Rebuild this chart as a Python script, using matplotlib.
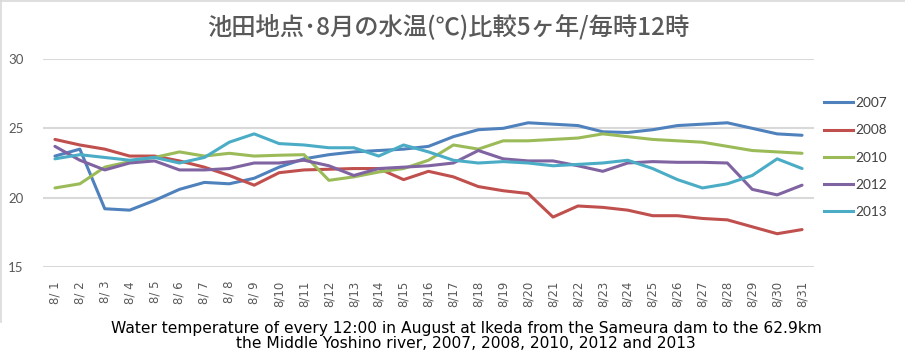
import matplotlib
matplotlib.use("Agg")
import matplotlib.pyplot as plt
from matplotlib.lines import Line2D

# August, every 12:00, water temperature at Ikeda
days = [f"8/{d:2d}" for d in range(1, 32)]
t2007 = [23.0, 23.5, 19.2, 19.1, 19.8, 20.6, 21.1, 21.0, 21.4, 22.2, 22.8,
         23.1, 23.3, 23.4, 23.5, 23.7, 24.4, 24.9, 25.0, 25.4, 25.3, 25.2,
         24.75, 24.7, 24.9, 25.2, 25.3, 25.4, 25.0, 24.6, 24.5]
t2008 = [24.2, 23.8, 23.5, 23.0, 23.0, 22.65, 22.2, 21.6, 20.9, 21.8, 22.0,
         22.05, 22.1, 22.1, 21.3, 21.9, 21.5, 20.8, 20.5, 20.3, 18.6, 19.4,
         19.3, 19.1, 18.7, 18.7, 18.5, 18.4, 17.9, 17.4, 17.7]
t2010 = [20.7, 21.0, 22.2, 22.6, 22.9, 23.3, 23.0, 23.2, 23.0, 23.06, 23.1,
         21.25, 21.5, 21.85, 22.1, 22.7, 23.8, 23.5, 24.1, 24.1, 24.2, 24.3,
         24.6, 24.4, 24.2, 24.1, 24.0, 23.7, 23.4, 23.3, 23.2]
t2012 = [23.7, 22.7, 22.0, 22.5, 22.65, 22.0, 22.0, 22.1, 22.5, 22.5, 22.7,
         22.3, 21.6, 22.1, 22.2, 22.3, 22.5, 23.4, 22.8, 22.65, 22.65, 22.3,
         21.9, 22.5, 22.6, 22.55, 22.55, 22.5, 20.6, 20.2, 20.9]
t2013 = [22.8, 23.1, 22.9, 22.7, 22.9, 22.5, 22.9, 24.0, 24.6, 23.9, 23.8,
         23.6, 23.6, 23.0, 23.8, 23.3, 22.7, 22.5, 22.6, 22.5, 22.3, 22.4,
         22.5, 22.7, 22.1, 21.3, 20.7, 21.0, 21.6, 22.8, 22.1]
years = ["2007", "2008", "2010", "2012", "2013"]
colors = ["#4F81BD", "#C0504D", "#9BBB59", "#8064A2", "#4BACC6"]
yticks = [15, 20, 25, 30]

title = "池田地点･8月の水温(℃)比較5ヶ年/毎時12時"
caption = ("Water temperature of every 12:00 in August at Ikeda from the Sameura dam to the 62.9km\n"
           "the Middle Yoshino river, 2007, 2008, 2010, 2012 and 2013")

fig = plt.figure(figsize=(9.05, 3.55), dpi=100)
ax = fig.add_axes([43 / 905, 1 - 267 / 355, (814 - 43) / 905, (267 - 59) / 355])

series = [t2007, t2008, t2010, t2012, t2013]
x = list(range(len(days)))
for vals, c in zip(series, colors):
    ax.plot(x, vals, color=c, lw=2.2, solid_capstyle="round", solid_joinstyle="round", zorder=3)

ax.set_xlim(-0.48, 30.48)
ax.set_ylim(15, 30)
ax.set_yticks(yticks)
ax.grid(axis="y", color="#D9D9D9", lw=1.5)
ax.set_axisbelow(True)
for s in ax.spines.values():
    s.set_visible(False)
ax.tick_params(axis="both", length=0)
ax.tick_params(axis="y", pad=14, labelsize=9.5, labelcolor="#595959")
ax.tick_params(axis="x", pad=10, labelsize=8.5, labelcolor="#595959")
ax.set_xticks(x)
ax.set_xticklabels(days, rotation=90, family=["DejaVu Sans"])
for lab in ax.get_yticklabels():
    lab.set_family("Lato")

# legend
handles = [Line2D([], [], color=c, lw=2.2) for c in colors]
leg = fig.legend(handles, years, loc="upper left", bbox_to_anchor=(812 / 905, 1 - 85 / 355),
                 frameon=False, handlelength=2.1, handletextpad=0.15, labelspacing=1.12,
                 prop={"family": "Lato", "size": 9.8})
for t in leg.get_texts():
    t.set_color("#404040")

fig.text(448 / 905, 1 - 27 / 355, title, ha="center", va="center", fontsize=17.5,
         color="#595959", fontweight="medium", family=["Noto Sans CJK JP", "DejaVu Sans"])
fig.text(466 / 905, 1 - 336 / 355, caption, ha="center", va="center", fontsize=11.2,
         linespacing=1.05, color="black", family=["DejaVu Sans"])

# chart area border (top and left visible)
fig.add_artist(Line2D([0, 1], [1 - 0.5 / 355, 1 - 0.5 / 355], color="#D9D9D9", lw=1.2))
fig.add_artist(Line2D([0.5 / 905, 0.5 / 905], [1, 1 - 322 / 355], color="#D9D9D9", lw=1.2))

fig.savefig("out.png", dpi=100)
